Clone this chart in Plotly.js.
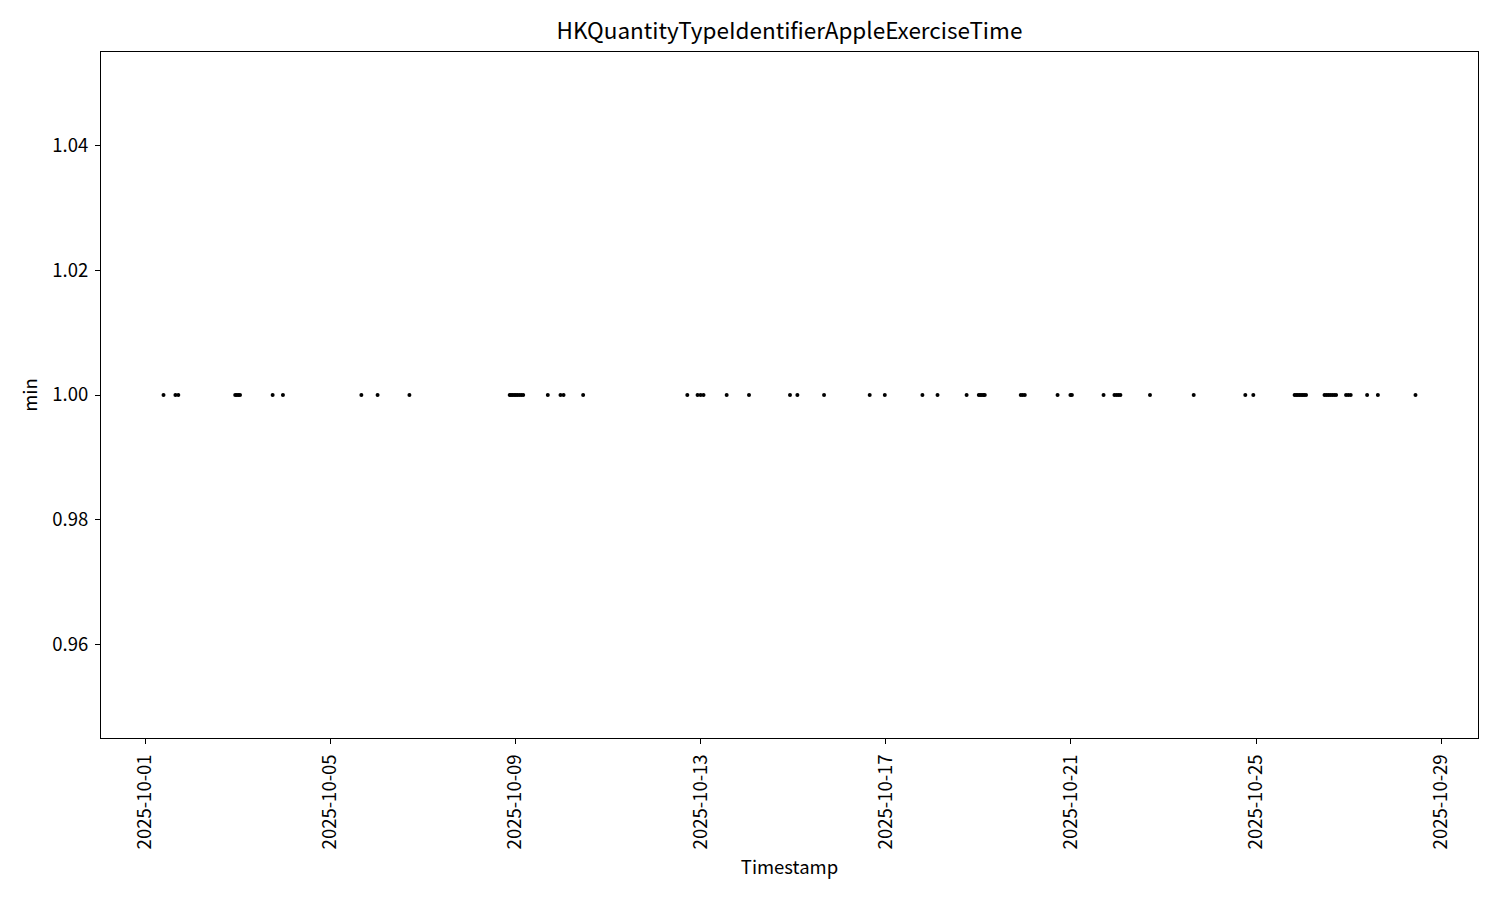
<!DOCTYPE html>
<html>
<head>
<meta charset="utf-8">
<script src="https://cdn.plot.ly/plotly-3.0.1.min.js"></script>
<style>html,body{margin:0;padding:0;background:#fff;}#chart{width:1500px;height:900px;}</style>
</head>
<body>
<div id="chart"></div>
<script>
const timestamps = [
  "2025-10-01 09:30","2025-10-01 15:40","2025-10-01 17:10",
  "2025-10-02 22:40","2025-10-02 23:30","2025-10-03 00:20","2025-10-03 01:10",
  "2025-10-03 18:05","2025-10-03 23:25",
  "2025-10-05 16:05","2025-10-06 00:30","2025-10-06 17:00",
  "2025-10-08 21:00","2025-10-08 21:40","2025-10-08 22:30","2025-10-08 23:20",
  "2025-10-09 00:10","2025-10-09 01:00","2025-10-09 02:00","2025-10-09 03:00","2025-10-09 04:00",
  "2025-10-09 16:45","2025-10-09 23:20","2025-10-10 00:55","2025-10-10 11:05",
  "2025-10-12 17:05","2025-10-12 22:25","2025-10-13 00:00","2025-10-13 01:30","2025-10-13 13:30",
  "2025-10-14 01:05","2025-10-14 22:20","2025-10-15 02:10","2025-10-15 16:00",
  "2025-10-16 15:40","2025-10-16 23:30","2025-10-17 19:00","2025-10-18 02:50","2025-10-18 17:55",
  "2025-10-19 00:15","2025-10-19 01:00","2025-10-19 01:50","2025-10-19 02:40","2025-10-19 03:20",
  "2025-10-19 22:00","2025-10-19 23:00","2025-10-20 00:05",
  "2025-10-20 17:05","2025-10-20 23:45","2025-10-21 00:30",
  "2025-10-21 16:55","2025-10-21 22:35","2025-10-21 23:40","2025-10-22 00:40","2025-10-22 01:40",
  "2025-10-22 17:00","2025-10-23 15:40","2025-10-24 18:25","2025-10-24 22:35",
  "2025-10-25 20:00","2025-10-25 20:50","2025-10-25 21:40","2025-10-25 22:30","2025-10-25 23:20",
  "2025-10-26 00:10","2025-10-26 01:00","2025-10-26 01:55",
  "2025-10-26 11:30","2025-10-26 12:30","2025-10-26 13:30","2025-10-26 14:30","2025-10-26 15:30","2025-10-26 16:30","2025-10-26 17:30",
  "2025-10-26 22:40","2025-10-26 23:50","2025-10-27 01:05",
  "2025-10-27 09:35","2025-10-27 15:10","2025-10-28 10:40"
];
const minutes = timestamps.map(() => 1);
const xTickVals = ["2025-10-01","2025-10-05","2025-10-09","2025-10-13","2025-10-17","2025-10-21","2025-10-25","2025-10-29"];
const yTickVals = [0.96, 0.98, 1.00, 1.02, 1.04];
const chartTitle = "HKQuantityTypeIdentifierAppleExerciseTime";
const xLabel = "Timestamp";
const yLabel = "min";

const FONT = "'Noto Sans CJK JP', 'Noto Sans', sans-serif";
const FS = 18.5;

const trace = {
  x: timestamps, y: minutes, type: "scatter", mode: "markers",
  marker: {color: "#000", size: 4}, hoverinfo: "x+y"
};

const layout = {
  width: 1500, height: 900,
  paper_bgcolor: "#fff", plot_bgcolor: "#fff",
  margin: {l: 101, r: 22, t: 52, b: 162},
  font: {family: FONT, color: "#000", size: FS},
  showlegend: false,
  title: {text: chartTitle, font: {family: FONT, size: 22.5, color: "#000"},
          x: 0.5, xref: "paper", y: 1 - 31/900, yref: "container", yanchor: "middle"},
  xaxis: {
    type: "date", range: ["2025-09-30 01:05", "2025-10-29 19:05"],
    tickmode: "array", tickvals: xTickVals, ticktext: xTickVals,
    tickangle: -90, ticks: "outside", ticklen: 5, tickwidth: 1, tickcolor: "#000",
    ticklabelstandoff: 3,
    showline: true, linecolor: "#000", linewidth: 1, mirror: true,
    showgrid: false, zeroline: false,
    tickfont: {family: FONT, size: FS, color: "#000"},
    title: {text: xLabel, font: {family: FONT, size: FS, color: "#000"}, standoff: 12},
    automargin: false
  },
  yaxis: {
    range: [0.945, 1.055],
    tickmode: "array", tickvals: yTickVals, tickformat: ".2f",
    ticks: "outside", ticklen: 5, tickwidth: 1, tickcolor: "#000",
    ticklabelstandoff: 3,
    showline: true, linecolor: "#000", linewidth: 1, mirror: true,
    showgrid: false, zeroline: false,
    tickfont: {family: FONT, size: FS, color: "#000"},
    title: {text: yLabel, font: {family: FONT, size: FS, color: "#000"}, standoff: 9},
    automargin: false
  }
};

Plotly.newPlot("chart", [trace], layout, {displayModeBar: false, staticPlot: true});
</script>
</body>
</html>
